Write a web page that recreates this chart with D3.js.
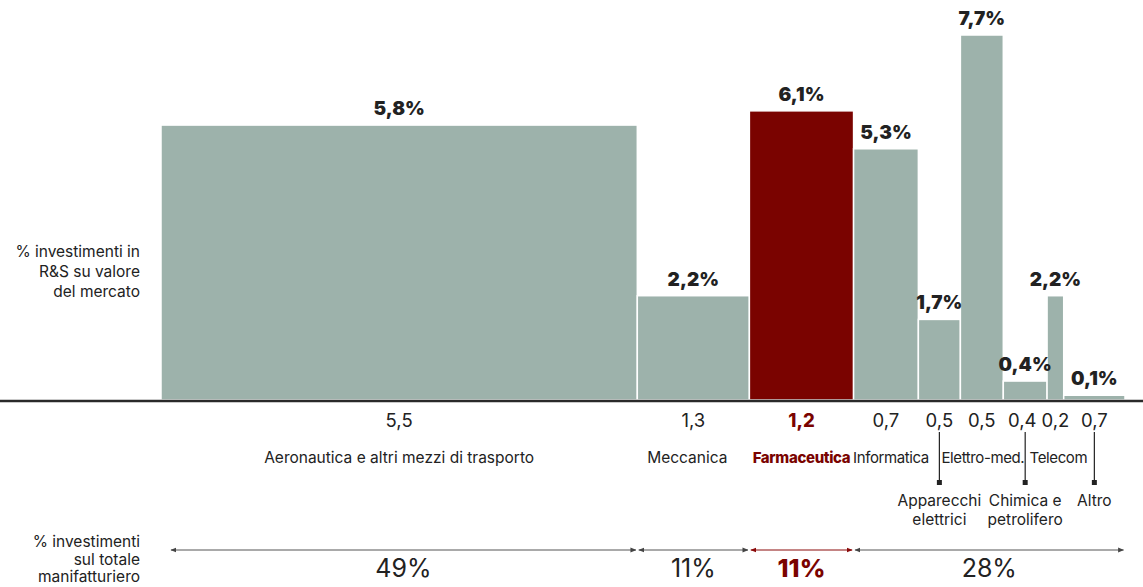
<!DOCTYPE html>
<meta charset="utf-8">
<head>
<style>
body { margin: 0; background: #fff; }
text { font-family: Inter, "Noto Sans", sans-serif; fill: #222; }
.val { font-weight: 900; font-size: 19px; }
.share { font-size: 18.5px; }
.cat { font-size: 15.5px; }
.side { font-size: 15.5px; }
.grp { font-size: 25px; }
.hl { fill: #7a0300; font-weight: 800; }
</style>
</head>
<body>
<script src="https://d3js.org/d3.v7.min.js"></script>
<script>

// sectors, in drawing order
var sectors = ["Aeronautica e altri mezzi di trasporto", "Meccanica", "Farmaceutica", "Informatica",
  "Apparecchi elettrici", "Elettro-med.", "Chimica e petrolifero", "Telecom", "Altro"];
// % R&S investment on market value (bar heights)
var rdValues = [5.8, 2.2, 6.1, 5.3, 1.7, 7.7, 0.4, 2.2, 0.1];
// market value (bar widths, as drawn) and printed labels
var shares = [5.44, 1.28, 1.19, 0.74, 0.48, 0.49, 0.50, 0.19, 0.70];
var shareLabels = ["5,5", "1,3", "1,2", "0,7", "0,5", "0,5", "0,4", "0,2", "0,7"];
// sectors whose name hangs below on a leader line
var leaderLabels = {4: ["Apparecchi", "elettrici"], 6: ["Chimica e", "petrolifero"], 8: ["Altro"]};
// share of total manufacturing investment, groups of sectors
var groupStart = [0, 1, 2, 3];
var groupEnd = [1, 2, 3, 9];
var groupLabels = ["49%", "11%", "11%", "28%"];

var highlight = 2;
var width = 1143, height = 587;

var svg = d3.select("body").append("svg")
    .attr("width", width)
    .attr("height", height);

var cum = [0];
shares.forEach(function(s, i) { cum.push(cum[i] + s); });

var x = d3.scaleLinear().domain([0, cum[cum.length - 1]]).range([161, 1125]);
var y = d3.scaleLinear().domain([0, 7.7]).range([400, 35]);

var defs = svg.append("defs");
function marker(id, color, orient) {
  defs.append("marker")
      .attr("id", id)
      .attr("viewBox", "0 0 10 10")
      .attr("refX", 9).attr("refY", 5)
      .attr("markerWidth", 6).attr("markerHeight", 6)
      .attr("markerUnits", "userSpaceOnUse")
      .attr("orient", orient)
    .append("path")
      .attr("d", "M0,1L10,5L0,9z")
      .attr("fill", color);
}
marker("arr", "#444", "auto-start-reverse");
marker("arrRed", "#8a0a0a", "auto-start-reverse");

// bars
svg.append("g").selectAll("rect")
    .data(rdValues)
  .enter().append("rect")
    .attr("x", function(d, i) { return x(cum[i]); })
    .attr("width", function(d, i) { return x(cum[i + 1]) - x(cum[i]); })
    .attr("y", function(d) { return y(d); })
    .attr("height", function(d) { return y(0) - y(d); })
    .attr("fill", function(d, i) { return i == highlight ? "#7a0300" : "#9db2ab"; })
    .attr("stroke", "#fff")
    .attr("stroke-width", 1.5);

// baseline
svg.append("line")
    .attr("x1", 0).attr("x2", width)
    .attr("y1", y(0) + 1).attr("y2", y(0) + 1)
    .attr("stroke", "#2a2a2a")
    .attr("stroke-width", 2.5);

var mid = function(i) { return (x(cum[i]) + x(cum[i + 1])) / 2; };

// value labels
svg.append("g").selectAll("text")
    .data(rdValues)
  .enter().append("text")
    .attr("class", "val")
    .attr("x", function(d, i) { return mid(i); })
    .attr("y", function(d) { return y(d) - 10; })
    .attr("text-anchor", "middle")
    .text(function(d) { return d3.format(".1f")(d).replace(".", ",") + "%"; });

// width labels
svg.append("g").selectAll("text")
    .data(shareLabels)
  .enter().append("text")
    .attr("class", function(d, i) { return i == highlight ? "share hl" : "share"; })
    .attr("x", function(d, i) { return mid(i) + (i == 6 ? -3 : 0); })
    .attr("y", 427)
    .attr("text-anchor", "middle")
    .text(function(d) { return d; });

// sector names (the crowded ones squeezed a little)
var nudge = {1: -6, 3: 5, 5: 1, 7: 3};
var squeeze = {2: -0.35, 3: -0.4, 5: -0.4, 7: -0.4};
sectors.forEach(function(name, i) {
  if (leaderLabels[i]) {
    var cx = mid(i);
    svg.append("line")
        .attr("x1", cx).attr("x2", cx)
        .attr("y1", 432).attr("y2", 482)
        .attr("stroke", "#222").attr("stroke-width", 1.2);
    svg.append("rect")
        .attr("x", cx - 2.5).attr("y", 480)
        .attr("width", 5).attr("height", 5)
        .attr("fill", "#222");
    leaderLabels[i].forEach(function(line, j) {
      svg.append("text")
          .attr("class", "cat")
          .attr("x", cx).attr("y", 506 + j * 19)
          .attr("text-anchor", "middle")
          .text(line);
    });
  } else {
    svg.append("text")
        .attr("class", i == highlight ? "cat hl" : "cat")
        .attr("x", mid(i) + (nudge[i] || 0))
        .attr("y", 463)
        .attr("text-anchor", "middle")
        .style("font-size", squeeze[i] ? "15px" : null)
        .style("letter-spacing", squeeze[i] ? squeeze[i] + "px" : null)
        .text(name);
  }
});

// group arrows
groupLabels.forEach(function(lab, g) {
  var x0 = x(cum[groupStart[g]]) + (g == 0 ? 10 : 1.5);
  var x1 = x(cum[groupEnd[g]]) - 1.5;
  var red = groupStart[g] == highlight;
  svg.append("line")
      .attr("x1", x0).attr("x2", x1)
      .attr("y1", 550).attr("y2", 550)
      .attr("stroke", red ? "#8a0a0a" : "#555")
      .attr("stroke-width", 1)
      .attr("marker-start", red ? "url(#arrRed)" : "url(#arr)")
      .attr("marker-end", red ? "url(#arrRed)" : "url(#arr)");
  svg.append("text")
      .attr("class", red ? "grp hl" : "grp")
      .attr("x", (x0 + x1) / 2)
      .attr("y", 577)
      .attr("text-anchor", "middle")
      .text(lab);
});

// side titles
var sideTop = ["% investimenti in", "R&S su valore", "del mercato"];
var sideBottom = ["% investimenti", "sul totale", "manifatturiero"];
sideTop.forEach(function(t, i) {
  svg.append("text").attr("class", "side")
      .attr("x", 140).attr("y", 257 + i * 20)
      .attr("text-anchor", "end").text(t);
});
sideBottom.forEach(function(t, i) {
  svg.append("text").attr("class", "side")
      .attr("x", 140).attr("y", 547 + i * 17.5)
      .attr("text-anchor", "end").text(t);
});

</script>
</body>
